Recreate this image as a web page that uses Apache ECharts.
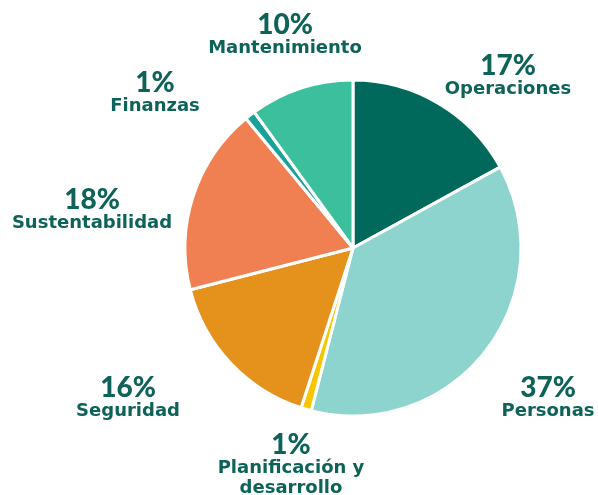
<!DOCTYPE html>
<html>
<head>
<meta charset="utf-8">
<script src="https://cdn.jsdelivr.net/npm/echarts@6/dist/echarts.min.js"></script>
<style>
  html, body { margin: 0; padding: 0; background: #fff; }
  #chart { width: 598px; height: 495px; }
</style>
</head>
<body>
<div id="chart"></div>
<script>
// áreas y porcentajes, en orden horario desde arriba
const areas = ["Operaciones", "Personas", "Planificación y\ndesarrollo", "Seguridad", "Sustentabilidad", "Finanzas", "Mantenimiento"];
const porcentajes = [17, 37, 1, 16, 18, 1, 10];
const colores = ["#00695c", "#8dd4ce", "#f7c600", "#e5921c", "#f08052", "#17a398", "#3bbf9c"];
// centro de cada etiqueta (px)
const posEtiquetas = [[508, 76], [548, 398], [291, 465], [128, 398], [92, 210], [155, 93], [285, 35]];

const chart = echarts.init(document.getElementById("chart"));

const option = {
  animation: false,
  series: [
    {
      type: "pie",
      center: [353, 248],
      radius: [0, 168],
      startAngle: 90,
      clockwise: true,
      avoidLabelOverlap: false,
      minShowLabelAngle: 0,
      data: areas.map((n, i) => ({
        name: n,
        value: porcentajes[i],
        itemStyle: { color: colores[i] },
      })),
      itemStyle: {
        borderColor: "#fff",
        borderWidth: 3,
      },
      label: {
        show: true,
        position: "outside",
        formatter: (p) => "{pct|" + p.value + "%}\n{name|" + p.name.replace("\n", "}\n{name|") + "}",
        rich: {
          pct: {
            fontFamily: "Lato",
            fontWeight: 900,
            fontSize: 28,
            color: "#0d6358",
            align: "center",
            lineHeight: 27,
          },
          name: {
            fontFamily: "DejaVu Sans",
            fontWeight: "bold",
            fontSize: 18,
            color: "#0d6358",
            align: "center",
            lineHeight: 20,
          },
        },
      },
      labelLine: { show: false },
      labelLayout: (p) => ({
        x: posEtiquetas[p.dataIndex][0],
        y: posEtiquetas[p.dataIndex][1],
        align: "center",
        verticalAlign: "middle",
        hideOverlap: false,
      }),
      emphasis: { disabled: true },
    },
  ],
};

chart.setOption(option);
</script>
</body>
</html>
